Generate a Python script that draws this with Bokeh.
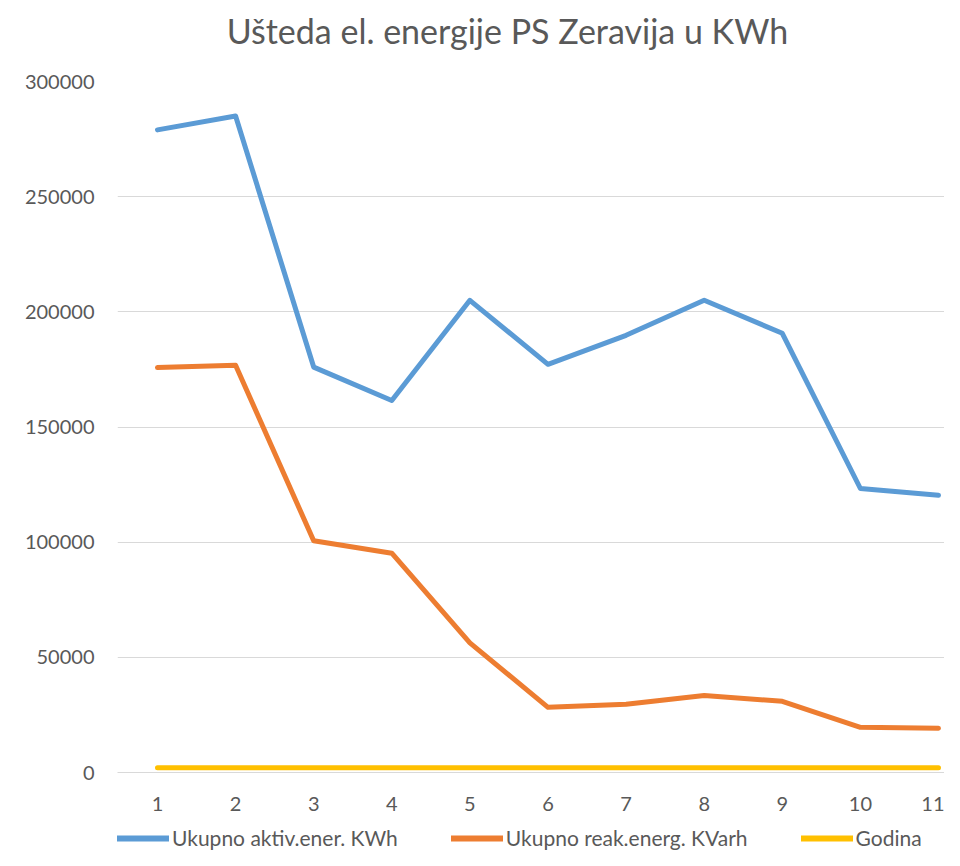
from bokeh.plotting import figure
from bokeh.layouts import column
from bokeh.models import Range1d, FixedTicker, NumeralTickFormatter, Legend, LegendItem
from bokeh.core.properties import value
from bokeh.embed import file_html
from bokeh.resources import INLINE

categories = [1, 2, 3, 4, 5, 6, 7, 8, 9, 10, 11]
aktiv = [279000, 285000, 176000, 161500, 205000, 177200, 189800, 205000, 190700, 123300, 120400]
reak = [175800, 176800, 100600, 95200, 56300, 28300, 29600, 33400, 30900, 19600, 19200]
godina = [2008, 2009, 2010, 2011, 2012, 2013, 2014, 2015, 2016, 2017, 2018]
y_ticks = [0, 50000, 100000, 150000, 200000, 250000, 300000]
series_names = ["Ukupno aktiv.ener. KWh", "Ukupno reak.energ. KVarh", "Godina"]
series_colors = ["#5B9BD5", "#ED7D31", "#FFC000"]
title_text = "Ušteda el. energije PS Zeravija u KWh"

FONT = "Lato"
GREY = "#595959"
W = 944
FRAME_LEFT = 117


def blank(height):
    # page-pixel coordinates across the (aligned) frame
    f = figure(width=W, height=height, x_range=Range1d(FRAME_LEFT, W), y_range=Range1d(0, height),
               output_backend="svg", toolbar_location=None, min_border=0,
               min_border_left=FRAME_LEFT, min_border_right=0)
    f.axis.visible = False
    f.grid.grid_line_color = None
    f.outline_line_color = None
    return f


# title strip
p0 = blank(60)
p0.text(x=[507], y=[30], text=[title_text], text_align="center", text_baseline="middle",
        text_font=value(FONT), text_font_size="34px", text_color=GREY)

# main chart
p = figure(width=W, height=756, x_range=Range1d(0.488, 11.077),
           y_range=Range1d(0, 300000), output_backend="svg", toolbar_location=None,
           min_border_left=FRAME_LEFT, min_border_right=0, min_border_top=21, min_border_bottom=44)
p.outline_line_color = None

for vals, col in zip([aktiv, reak, godina], series_colors):
    p.line(categories, vals, line_color=col, line_width=5, line_join="round", line_cap="round")

p.xgrid.grid_line_color = None
p.ygrid.grid_line_color = "#d9d9d9"
p.ygrid.grid_line_width = 1
p.yaxis.ticker = FixedTicker(ticks=y_ticks)
p.yaxis.formatter = NumeralTickFormatter(format="0")
p.yaxis.axis_line_color = None
p.yaxis.major_tick_line_color = None
p.yaxis.minor_tick_line_color = None
p.yaxis.major_label_standoff = 17
p.xaxis.ticker = FixedTicker(ticks=categories)
p.xaxis.axis_line_color = "#d9d9d9"
p.xaxis.major_tick_line_color = None
p.xaxis.minor_tick_line_color = None
p.xaxis.major_label_standoff = 18
for ax in (p.xaxis, p.yaxis):
    ax.major_label_text_font = FONT
    ax.major_label_text_font_size = "20px"
    ax.major_label_text_color = GREY

# legend strip (series drawn invisibly here only to key the legend)
p2 = blank(34)
items = []
for name, vals, col in zip(series_names, [aktiv, reak, godina], series_colors):
    r = p2.line(categories, vals, line_color=col, line_width=6, line_cap="round", visible=False)
    items.append(LegendItem(label=name, renderers=[r]))
legend = Legend(items=items, orientation="horizontal", location=(0, 0), glyph_width=52,
                glyph_height=12, label_standoff=3, spacing=53, padding=0, margin=0,
                border_line_color=None, background_fill_alpha=0, inactive_fill_alpha=0,
                click_policy="none",
                label_text_font=FONT, label_text_font_size="21px", label_text_color=GREY)
p2.add_layout(legend, "center")

layout = column(p0, p, p2, spacing=0)
open("out.html", "w").write(file_html(layout, INLINE))
